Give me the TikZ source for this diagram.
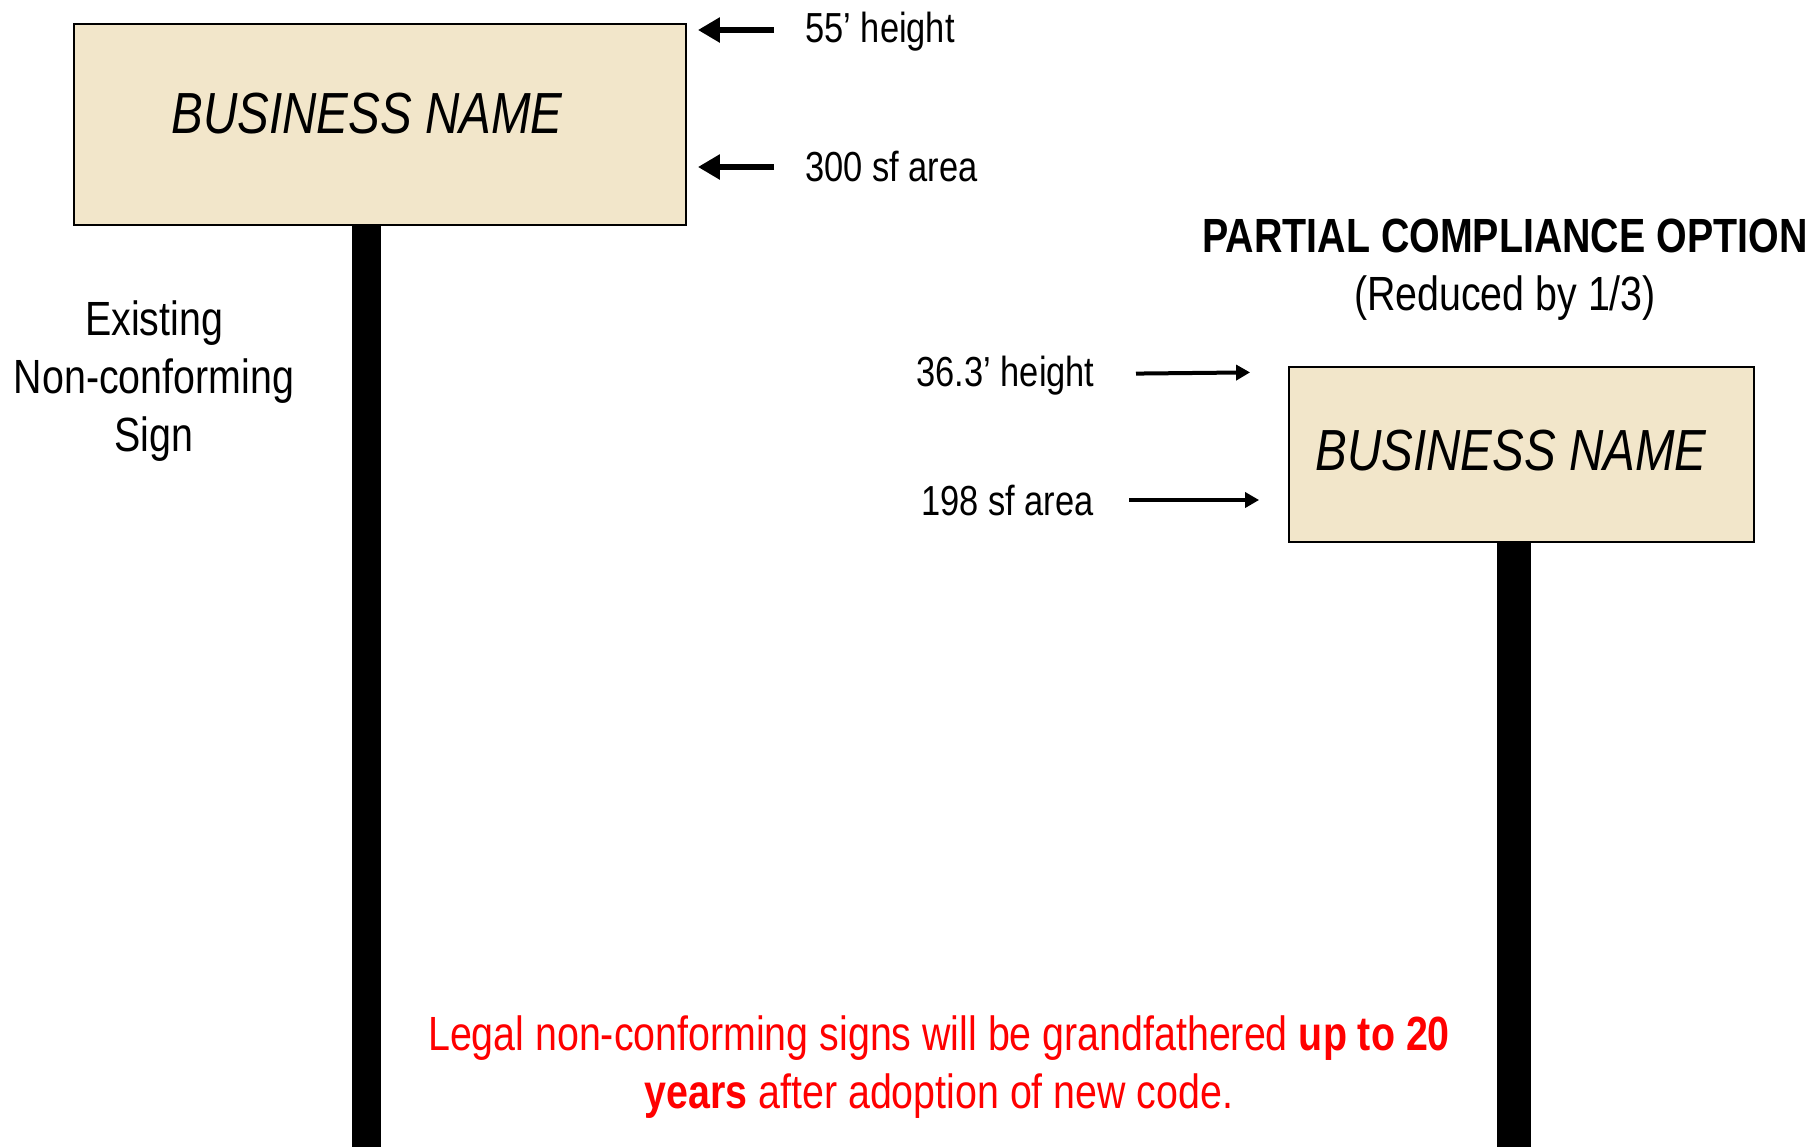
\documentclass[tikz,border=0pt]{standalone}
\usepackage{fontspec}
\setmainfont{Liberation Sans}[FakeStretch=0.82]
\usetikzlibrary{arrows.meta,calc}
\definecolor{signtan}{RGB}{242,230,202}
\definecolor{notered}{RGB}{255,0,0}

\begin{document}
\begin{tikzpicture}[x=0.5pt,y=-0.5pt,
    signbox/.style={draw=black,line width=0.9pt,fill=signtan,inner sep=0},
    signname/.style={font=\fontsize{29}{34}\selectfont\itshape,inner sep=0},
    dimlabel/.style={font=\fontsize{21}{25}\selectfont,inner sep=0},
    bigtext/.style={font=\fontsize{24}{29}\selectfont,align=center,inner sep=0},
    bigarrow/.style={line width=3pt,-{Triangle[length=11pt,width=12pt]}},
    thinarrow/.style={line width=2pt,-{Triangle[length=7pt,width=7.5pt]}}]
  \useasboundingbox (0,0) rectangle (1812,1147);

  % existing sign
  \fill (352,225) rectangle (381,1147);
  \node[signbox,minimum width=306pt,minimum height=100.5pt] (sign1) at (380,124.5) {};
  \node[signname] (name1) at (367,114) {BUSINESS NAME};
  \node[dimlabel,anchor=west] (h1) at (805,32) {55' height};
  \node[dimlabel,anchor=west] (a1) at (805,167) {300 sf area};
  \draw[bigarrow,shorten <=15.5pt,shorten >=5.5pt] ([yshift=1pt]h1.west) -- ([yshift=1pt]h1.west -| sign1.east);
  \draw[bigarrow,shorten <=15.5pt,shorten >=5.5pt] (a1.west) -- (a1.west -| sign1.east);
  \node[bigtext] (existing) at (154,381) {Existing\\Non-conforming\\Sign};

  % reduced sign
  \node[bigtext] (option) at (1505,270) {\textbf{PARTIAL COMPLIANCE OPTION}\\(Reduced by 1/3)};
  \fill (1497,542) rectangle (1531,1147);
  \node[signbox,minimum width=232.5pt,minimum height=87.5pt] (sign2) at (1521.5,454.5) {};
  \node[signname] (name2) at (1511,451) {BUSINESS NAME};
  \node[dimlabel,anchor=east] (h2) at (1095,376) {36.3' height};
  \node[dimlabel,anchor=east] (a2) at (1094,500) {198 sf area};
  \draw[thinarrow,shorten <=20.5pt,shorten >=19pt] ([yshift=1pt]h2.east) -- ($(h2.east -| sign2.west)+(0,-4)$);
  \draw[thinarrow,shorten <=17.5pt,shorten >=14.5pt] (a2.east) -- (a2.east -| sign2.west);

  % note
  \node[bigtext,text=notered] (note) at (939,1067)
    {Legal non-conforming signs will be grandfathered \textbf{up to 20}\\\textbf{years} after adoption of new code.};
\end{tikzpicture}
\end{document}
